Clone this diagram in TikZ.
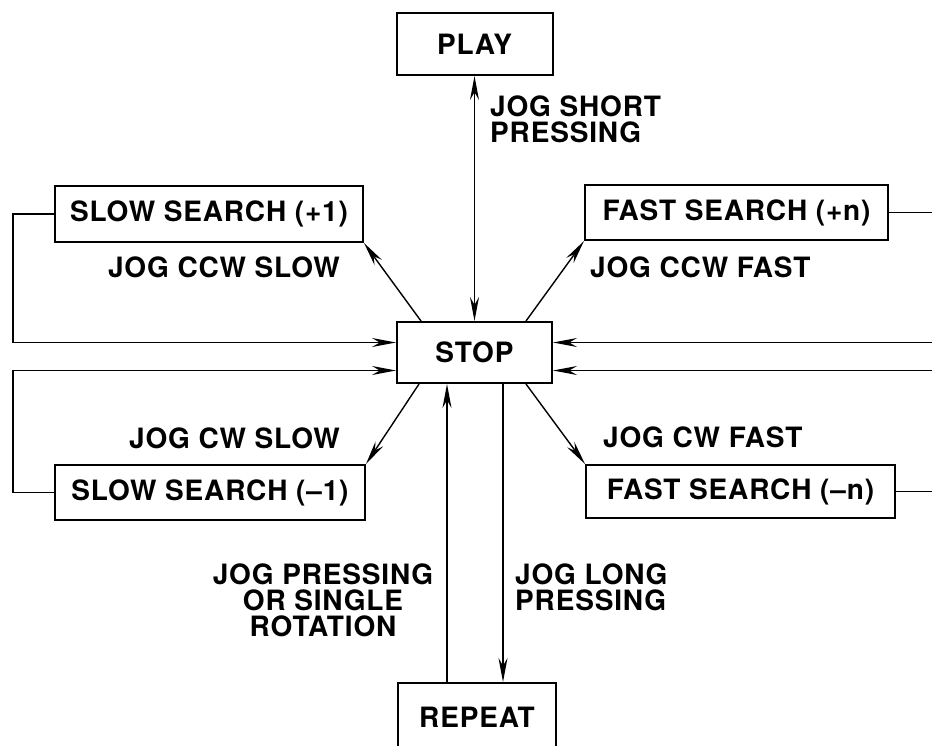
\documentclass[tikz,border=0pt]{standalone}
\usepackage{fontspec}
\setmainfont[LetterSpace=3]{TeX Gyre Heros}
\usetikzlibrary{arrows.meta}

\begin{document}
\begin{tikzpicture}[x=1pt, y=-1pt, >={Stealth[length=24pt,width=9pt]},
    mode/.style ={draw, line width=2pt, inner sep=0pt, font=\bfseries\fontsize{28}{26}\selectfont},
    jog/.style ={inner sep=0pt, font=\bfseries\fontsize{28}{26}\selectfont},
    link/.style ={line width=1.4pt}]
   \useasboundingbox (0,0) rectangle (932,745);
   \clip (0,0) rectangle (932,745);

   \node[mode, minimum width=156pt, minimum height=62pt] (play) at (474.5,44) {PLAY};
   \node[mode, minimum width=155pt, minimum height=61pt] (stop) at (474.5,352.5) {STOP};
   \node[mode, minimum width=308pt, minimum height=56pt] (slowP) at (209,214) {SLOW SEARCH (+1)};
   \node[mode, minimum width=303pt, minimum height=55pt] (fastP) at (736.5,212.5) {FAST SEARCH (+n)};
   \node[mode, minimum width=310pt, minimum height=55pt] (slowM) at (210,492.5) {SLOW SEARCH (–1)};
   \node[mode, minimum width=309pt, minimum height=53pt] (fastM) at (740.5,491.5) {FAST SEARCH (–n)};
   \node[mode, minimum width=158pt, minimum height=68pt] (repeat) at (477,717) {REPEAT};

   \coordinate (lft) at (13,0);
   \coordinate (rgt) at (962,0);

   \node[jog, anchor=north west, align=left] (short) at (490,96) {JOG SHORT\\PRESSING};
   \node[jog, anchor=east] (ccwSlow) at (340,267) {JOG CCW SLOW};
   \node[jog, anchor=west] (ccwFast) at (590,267) {JOG CCW FAST};
   \node[jog, anchor=east] (cwSlow) at (340,438) {JOG CW SLOW};
   \node[jog, anchor=west] (cwFast) at (603,437) {JOG CW FAST};
   \node[jog, align=center] (single) at (323,600) {JOG PRESSING\\OR SINGLE\\ROTATION};
   \node[jog, anchor=north west, align=left] (long) at (515,564) {JOG LONG\\PRESSING};

   \draw[link, <->] (play) to (stop);
   \draw[link, ->] ([xshift=25pt]stop.north west) to (slowP.south east);
   \draw[link, ->] ([xshift=-27pt]stop.north east) to (fastP.south west);
   \draw[link, ->] ([xshift=23pt]stop.south west) to (slowM.north east);
   \draw[link, ->] ([xshift=-27pt]stop.south east) to (fastM.north west);
   \draw[link, ->] ([xshift=28.5pt]stop.south) to ([xshift=28.5pt]stop.south |- repeat.north);
   \draw[link, ->] ([xshift=-27.5pt]stop.south |- repeat.north) to ([xshift=-27.5pt]stop.south);

   \draw[link, ->] (slowP.west) -- (slowP.west -| lft) |- ([yshift=10pt]stop.west);
   \draw[link, ->] (slowM.west) -- (slowM.west -| lft) |- ([yshift=-18pt]stop.west);
   \draw[link, ->] (fastP.east) -- (fastP.east -| rgt) |- ([yshift=10pt]stop.east);
   \draw[link, ->] (fastM.east) -- (fastM.east -| rgt) |- ([yshift=-18pt]stop.east);
 \end{tikzpicture}
\end{document}
